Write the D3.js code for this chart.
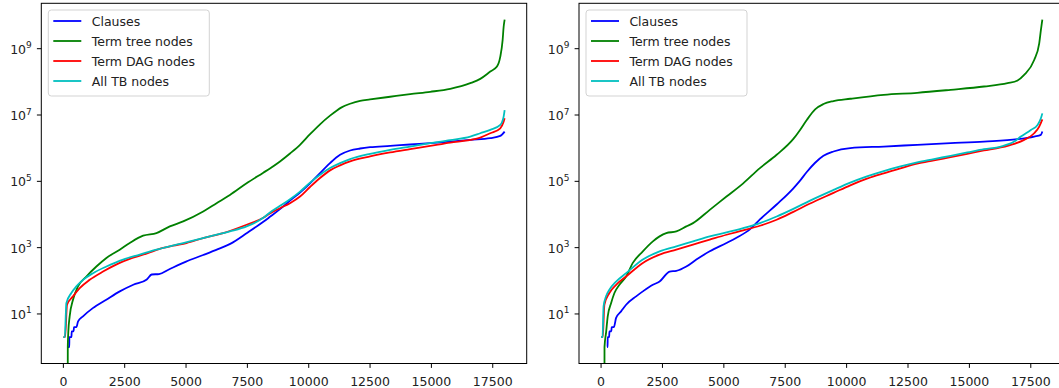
<!DOCTYPE html>
<html><head><meta charset="utf-8">
<script src="https://cdn.jsdelivr.net/npm/d3@7"></script>
<style>
html,body{margin:0;padding:0;background:#fff;overflow:hidden;}
svg{display:block;font-family:"DejaVu Sans",sans-serif;}
</style></head><body>
<svg id="chart" width="1059" height="388"></svg>
<script>
// ---------- data ----------
const seriesNames = ["Clauses", "Term tree nodes", "Term DAG nodes", "All TB nodes"];
const seriesColors = ["#0000ff", "#008000", "#ff0000", "#00bfbf"];
const xTickValues = [0, 2500, 5000, 7500, 10000, 12500, 15000, 17500];
const yTickValues = [1e1, 1e3, 1e5, 1e7, 1e9];
const yTickExponents = ["1", "3", "5", "7", "9"];

// left panel: [index, value]
const leftClauses = [[190,1],[240,1],[245,2],[330,2],[340,3],[420,3],[430,4],[530,4],[600,6],[800,8.5],[1200,15],[1750,27],[2300,48],[2850,76],[3400,110],[3600,155],[3900,160],[4300,220],[5000,380],[5700,600],[6300,900],[6800,1300],[7500,2820],[8150,6030],[8420,8510],[8829,14500],[9237,26300],[9645,45700],[10053,87100],[10461,178000],[10869,355000],[11278,631000],[11686,851000],[12094,977000],[12502,1070000],[13318,1170000],[14135,1290000],[14951,1410000],[15767,1580000],[16584,1780000],[17400,2000000],[17808,2340000],[17985,3160000]];
const leftTree = [[0,0],[160,0],[180,1],[200,2.7],[257,8.5],[393,27],[597,68],[937,135],[1346,270],[1754,490],[2298,870],[2706,1380],[3250,2290],[3795,2750],[4339,4370],[4883,6170],[5699,12300],[6244,21900],[6788,38900],[7468,87100],[8148,182000],[8420,245000],[8829,398000],[9237,692000],[9645,1260000],[10053,2630000],[10461,5250000],[10869,9550000],[11135,13500000],[11340,17000000],[11686,21900000],[12094,26900000],[12502,29500000],[13318,35500000],[14135,42700000],[14951,50100000],[15767,61700000],[16584,91200000],[16992,123000000],[17400,204000000],[17672,288000000],[17808,575000000],[17903,1820000000],[17944,4500000000],[17985,7500000000]];
const leftDag = [[0,2],[70,2],[150,19],[393,34],[665,60],[1073,107],[1618,190],[2298,347],[2706,457],[3387,661],[4066,977],[4475,1150],[5019,1380],[5699,1950],[6515,2750],[6924,3470],[7468,4900],[8148,7940],[8420,10700],[8829,15500],[9237,21900],[9645,34700],[10053,67600],[10461,126000],[10869,214000],[11278,302000],[11686,398000],[12502,562000],[13318,741000],[14135,933000],[14951,1170000],[15767,1480000],[16584,1780000],[16992,2090000],[17400,2820000],[17808,3980000],[17944,6310000],[17985,7940000]];
const leftTb = [[0,2],[60,2],[100,10],[121,21],[325,43],[529,68],[801,107],[1209,170],[1754,269],[2434,437],[3114,617],[3795,871],[4611,1230],[5155,1550],[5971,2190],[6788,3090],[7468,4370],[8148,7940],[8420,11500],[8829,18200],[9237,28800],[9645,49000],[10053,91200],[10461,158000],[10869,251000],[11278,355000],[11686,468000],[12502,676000],[13318,891000],[14135,1120000],[14951,1410000],[15767,1740000],[16584,2240000],[16992,2820000],[17400,3550000],[17808,5010000],[17944,8910000],[17985,14100000]];

// right panel: [index, value]
const rightClauses = [[244,1],[265,1],[270,2],[330,2],[340,3],[420,3],[430,4],[520,4],[612,7.6],[816,12],[1020,19],[1429,34],[1701,48],[2110,76],[2383,95],[2792,190],[3064,200],[3472,270],[3881,437],[4426,776],[5107,1380],[5516,2000],[6061,3550],[6469,7080],[7150,20000],[7831,61700],[8104,105000],[8377,191000],[8717,363000],[9057,589000],[9465,794000],[10147,1000000],[11509,1120000],[12873,1260000],[14234,1410000],[15595,1580000],[16960,1860000],[17638,2240000],[17911,2510000],[17970,3160000]];
const rightTree = [[0,0],[125,0],[140,1],[203,2.7],[271,8.5],[407,21],[544,43],[748,76],[1020,135],[1293,347],[1701,776],[2110,1550],[2383,2190],[2655,2750],[3064,3090],[3472,4370],[3745,5500],[4426,13800],[5107,34700],[5788,87100],[6469,251000],[7150,631000],[7831,1900000],[8104,3550000],[8377,7080000],[8717,14800000],[9057,21400000],[9465,26300000],[10147,30900000],[11509,40700000],[12873,46800000],[14234,57500000],[15595,72400000],[16551,91200000],[16960,110000000],[17229,162000000],[17638,457000000],[17843,1450000000],[17911,3630000000],[17970,7500000000]];
const rightDag = [[0,2],[70,2],[135,19],[339,43],[612,76],[1020,135],[1701,347],[2383,617],[3064,871],[3745,1230],[4426,1740],[5107,2450],[5788,3310],[6469,4570],[7150,6920],[7831,12000],[8513,21400],[9465,44700],[10147,75900],[10828,120000],[11509,174000],[12191,245000],[12873,339000],[13554,427000],[14234,537000],[14915,676000],[15595,851000],[16278,1050000],[16823,1350000],[17229,1780000],[17638,2820000],[17843,4470000],[17970,7410000]];
const rightTb = [[0,2],[60,2],[102,17],[203,34],[339,54],[612,95],[1020,170],[1701,437],[2383,776],[3064,1100],[3745,1550],[4426,2190],[5107,2880],[5788,3890],[6469,5500],[7150,8710],[7831,14800],[8513,26300],[9465,55000],[10147,91200],[10828,141000],[11509,204000],[12191,282000],[12873,372000],[13554,468000],[14234,589000],[14915,741000],[15595,933000],[16278,1120000],[16823,1580000],[17096,2240000],[17502,3550000],[17775,5010000],[17911,7940000],[17970,11200000]];

// ---------- layout ----------
const svg = d3.select("#chart");
const panelLefts = [41.3, 579];
const panelWidth = 485.4;
const axTop = 3.3, axBottom = 363.5;
const fontSize = 12.5;
const panels = [
  [leftClauses, leftTree, leftDag, leftTb],
  [rightClauses, rightTree, rightDag, rightTb]
];

panels.forEach((series, pi) => {
  const L = panelLefts[pi];
  const all = series.flat();
  const xExt = d3.extent(all, d => d[0]);
  const xPad = (xExt[1] - xExt[0]) * 0.05;
  const x = d3.scaleLinear().domain([xExt[0] - xPad, xExt[1] + xPad]).range([L, L + panelWidth]);
  const pos = all.filter(d => d[1] > 0).map(d => Math.log10(d[1]));
  const lo = d3.min(pos), hi = d3.max(pos), yPad = (hi - lo) * 0.05;
  const y = d3.scaleLog().domain([Math.pow(10, lo - yPad), Math.pow(10, hi + yPad)]).range([axBottom, axTop]);

  const clipId = "clip" + pi;
  svg.append("clipPath").attr("id", clipId).append("rect")
    .attr("x", L).attr("y", axTop).attr("width", panelWidth).attr("height", axBottom - axTop);

  const g = svg.append("g");
  const line = d3.line()
    .x(d => x(d[0]))
    .y(d => d[1] > 0 ? y(d[1]) : axBottom + 600)
    .curve(d3.curveMonotoneX);

  const lg = g.append("g").attr("clip-path", `url(#${clipId})`);
  series.forEach((s, si) => {
    lg.append("path").datum(s).attr("d", line)
      .attr("fill", "none").attr("stroke", seriesColors[si])
      .attr("stroke-width", 1.8).attr("stroke-linejoin", "round").attr("stroke-linecap", "butt");
  });

  // spines
  g.append("rect").attr("x", L).attr("y", axTop).attr("width", panelWidth).attr("height", axBottom - axTop)
    .attr("fill", "none").attr("stroke", "#000").attr("stroke-width", 1);

  // x ticks
  xTickValues.forEach(t => {
    const px = x(t);
    g.append("line").attr("x1", px).attr("x2", px).attr("y1", axBottom).attr("y2", axBottom + 4.4)
      .attr("stroke", "#000").attr("stroke-width", 1);
    g.append("text").attr("x", px).attr("y", axBottom + 22).attr("text-anchor", "middle")
      .attr("font-size", fontSize).attr("fill", "#222").text(t);
  });

  // y ticks
  yTickValues.forEach((t, ti) => {
    const py = y(t);
    g.append("line").attr("x1", L - 4.4).attr("x2", L).attr("y1", py).attr("y2", py)
      .attr("stroke", "#000").attr("stroke-width", 1);
    const tx = g.append("text").attr("x", L - 9.5).attr("y", py + 5).attr("text-anchor", "end")
      .attr("font-size", fontSize).attr("fill", "#222");
    tx.append("tspan").text("10");
    tx.append("tspan").attr("dy", -5.5).attr("font-size", 9).text(yTickExponents[ti]);
  });

  // legend
  const lx = L + 7, ly = 10;
  g.append("rect").attr("x", lx).attr("y", ly).attr("width", 161).attr("height", 86).attr("rx", 3)
    .attr("fill", "#fff").attr("fill-opacity", 0.8).attr("stroke", "#d3d3d3").attr("stroke-width", 1);
  seriesNames.forEach((name, si) => {
    const ry = 21 + si * 20;
    g.append("line").attr("x1", lx + 5).attr("x2", lx + 33).attr("y1", ry).attr("y2", ry)
      .attr("stroke", seriesColors[si]).attr("stroke-width", 1.8);
    g.append("text").attr("x", lx + 43.4).attr("y", ry + 4.5).attr("font-size", fontSize)
      .attr("fill", "#222").text(name);
  });
});
</script>
</body></html>
